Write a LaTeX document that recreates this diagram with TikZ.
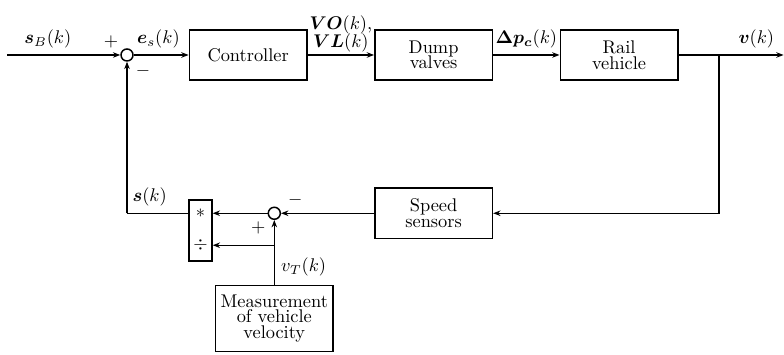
\documentclass[tikz,border=0pt]{standalone}
\usepackage{amsmath,bm}
\usetikzlibrary{arrows.meta,positioning,calc}
\tikzset{
  block/.style={draw, thick, minimum height=0.96cm, minimum width=2.25cm, align=center, inner sep=1pt},
  sumnode/.style={draw, thick, circle, minimum size=0.23cm, inner sep=0pt},
  multbox/.style={draw, thick, minimum height=1.17cm, minimum width=0.44cm, inner sep=0pt},
  line/.style={-{Stealth[length=4pt, width=3pt]}, thick},
  plain/.style={thick}
}

\begin{document}
\begin{tikzpicture}[node distance=1.27cm]
  \useasboundingbox (-2.430,1.052) rectangle (12.570,-5.740);

  % forward path
  \node[sumnode] (sum1) at (0,0) {};
  \coordinate (in) at (-2.296,0);
  \node[block, right=1.05cm of sum1] (ctrl) {Controller};
  \node[block, right=of ctrl] (valves) {Dump\\[-3.5pt]valves};
  \node[block, right=of valves] (rail) {Rail\\[-3.5pt]vehicle};
  \coordinate[right=0.77cm of rail.east] (branch);
  \coordinate[right=2.009cm of rail.east] (out);

  % feedback path
  \node[block, below=2.04cm of valves] (speed) {Speed\\[-3.5pt]sensors};
  \node[sumnode, left=1.78cm of speed] (sum2) {};
  \node[multbox, anchor=north east] (mult) at ($(sum2.west)+(-1.05,0.268)$) {};
  \coordinate (divpt) at ($(sum2)+(0,-0.612)$);
  \node at (sum2 -| mult) {$*$};
  \node at (divpt -| mult) {$\div$};
  \node[block, below=1.24cm of sum2, minimum height=1.26cm] (meas) {Measurement\\[-3.5pt]of vehicle\\[-3.5pt]velocity};

  \draw[line] (in) -- node[pos=0.36, above] {$\bm{s}_B(k)$} (sum1);
  \draw[line] (sum1) -- node[pos=0.45, above] {$\bm{e}_s(k)$} (ctrl);
  \draw[line] (ctrl) -- node[above, align=center, inner sep=1pt] {$\bm{VO}(k)$,\\[-2pt]$\bm{VL}(k)$} (valves);
  \draw[line] (valves) -- node[above] {$\bm{\Delta p_c}(k)$} (rail);
  \draw[line] (rail) -- node[pos=0.74, above] {$\bm{v}(k)$} (out);
  \draw[line] (branch) |- (speed);
  \draw[line] (speed) -- (sum2);
  \draw[line] (sum2) -- (sum2 -| mult.east);
  \draw[line] (meas.north) -- node[pos=0.28, right] {$v_T(k)$} (sum2);
  \draw[line] (divpt) -- (divpt -| mult.east);
  \draw[plain] (sum2 -| mult.west) -- node[pos=0.63, above] {$\bm{s}(k)$} (sum2 -| sum1);
  \draw[line] (sum2 -| sum1) -- (sum1);

  % signs
  \node at ($(sum1)+(-0.306,0.249)$) {$+$};
  \node at ($(sum1)+(0.306,-0.306)$) {$-$};
  \node at ($(sum2)+(0.40,0.249)$) {$-$};
  \node at ($(sum2)+(-0.306,-0.287)$) {$+$};
\end{tikzpicture}
\end{document}
